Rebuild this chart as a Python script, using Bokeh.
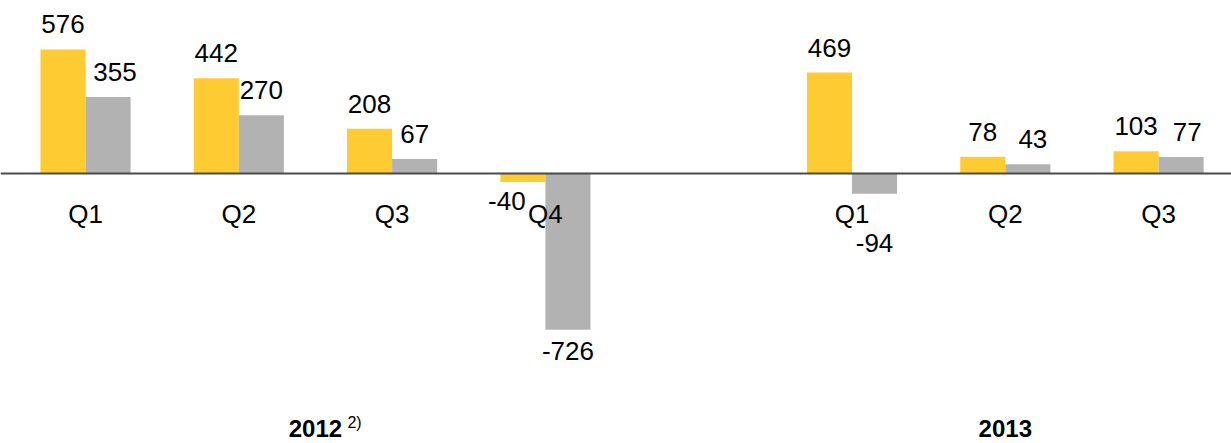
from bokeh.plotting import figure
from bokeh.models import ColumnDataSource, Span, Range1d
from bokeh.core.properties import value
from bokeh.embed import file_html
from bokeh.resources import INLINE

# ---- data ----
years = ["2012", "2013"]
year_notes = ["2)", ""]
quarters_2012 = ["Q1", "Q2", "Q3", "Q4"]
quarters_2013 = ["Q1", "Q2", "Q3"]
yellow_2012 = [576, 442, 208, -40]
gray_2012 = [355, 270, 67, -726]
yellow_2013 = [469, 78, 103]
gray_2013 = [-94, 43, 77]

# label nudges (pixels) for readability as in the original
yellow_dx = [0, 0, 0, -16, 0, 0, 0]
yellow_dy = [0, 0, 0, -2, 0, 0, 0]
gray_dx = [7, 0, 0, 0, 0, 5, 6]
gray_dy = [0, 0, 0, 0, 28, 0, 0]

# ---- layout of slots ----
quarters = quarters_2012 + quarters_2013
yellow = yellow_2012 + yellow_2013
gray = gray_2012 + gray_2013
slots = list(range(len(quarters_2012))) + [len(quarters_2012) + 1 + i for i in range(len(quarters_2013))]
year_x = [(len(quarters_2012) - 1) / 2, slots[len(quarters_2012)] + (len(quarters_2013) - 1) / 2]

bw = 0.294
YEL = "#FFCB33"
GRY = "#B2B2B2"
FONT = "Liberation Sans"

W, H = 1231, 443
px_per_unit = 0.2153
zero_px = 173
slot_px = 153.3
x0 = -85 / slot_px
y_top = zero_px / px_per_unit
y_bot = -(H - zero_px) / px_per_unit

p = figure(width=W, height=H, output_backend="svg", toolbar_location=None,
           x_range=Range1d(x0, x0 + W / slot_px), y_range=Range1d(y_bot, y_top),
           min_border=0, min_border_left=0, min_border_right=0,
           min_border_top=0, min_border_bottom=0)
p.axis.visible = False
p.grid.visible = False
p.outline_line_color = None
p.background_fill_color = "white"
p.border_fill_color = "white"

src = ColumnDataSource(dict(
    xy=[s - bw / 2 for s in slots],
    xg=[s + bw / 2 for s in slots],
    yel=yellow, gry=gray, q=quarters, x=slots,
))

p.vbar(x="xy", top="yel", bottom=0, width=bw, source=src, fill_color=YEL, line_color=None)
p.vbar(x="xg", top="gry", bottom=0, width=bw, source=src, fill_color=GRY, line_color=None)

p.add_layout(Span(location=0, dimension="width", line_color="#4A4A4A", line_width=2))

fs = "26px"

def value_labels(xs, vals, dxs, dys):
    pos = [i for i, v in enumerate(vals) if v >= 0]
    neg = [i for i, v in enumerate(vals) if v < 0]
    if pos:
        s = ColumnDataSource(dict(x=[xs[i] for i in pos], y=[vals[i] for i in pos],
                                  t=[str(vals[i]) for i in pos],
                                  dx=[dxs[i] for i in pos], dy=[dys[i] - 25 for i in pos]))
        p.text(x="x", y="y", text="t", x_offset="dx", y_offset="dy", source=s,
               text_align="center", text_baseline="alphabetic",
               text_font=value(FONT), text_font_size=fs, text_color="black")
    if neg:
        s = ColumnDataSource(dict(x=[xs[i] for i in neg], y=[vals[i] for i in neg],
                                  t=[str(vals[i]) for i in neg],
                                  dx=[dxs[i] for i in neg], dy=[dys[i] + 12 for i in neg]))
        p.text(x="x", y="y", text="t", x_offset="dx", y_offset="dy", source=s,
               text_align="center", text_baseline="top",
               text_font=value(FONT), text_font_size=fs, text_color="black")

value_labels([s - bw / 2 for s in slots], yellow, yellow_dx, yellow_dy)
value_labels([s + bw / 2 for s in slots], gray, gray_dx, gray_dy)

# quarter labels
p.text(x="x", y=0, text="q", source=src, y_offset=40,
       text_align="center", text_baseline="alphabetic",
       text_font=value(FONT), text_font_size=fs, text_color="black")

# year labels
ysrc = ColumnDataSource(dict(x=year_x, t=years, n=year_notes))
p.text(x="x", y=0, text="t", source=ysrc, y_offset=255,
       text_align="center", text_baseline="alphabetic",
       text_font=value(FONT), text_font_size="24px", text_font_style="bold", text_color="black")
p.text(x="x", y=0, text="n", source=ysrc, y_offset=249, x_offset=32,
       text_align="left", text_baseline="alphabetic",
       text_font=value(FONT), text_font_size="16px", text_color="black")

open("out.html", "w").write(file_html(p, INLINE))
